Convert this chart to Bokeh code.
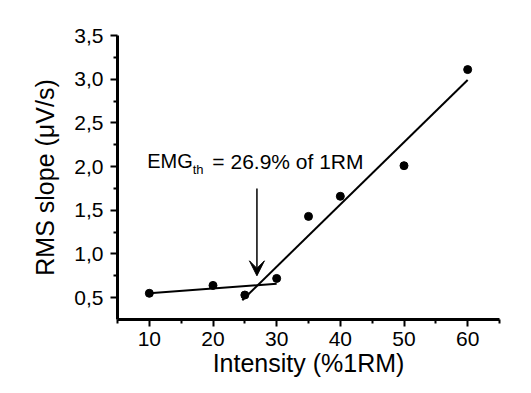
from bokeh.plotting import figure
from bokeh.models import Range1d, FixedTicker, CustomJSTickFormatter, Label, Arrow, VeeHead
from bokeh.embed import file_html
from bokeh.resources import INLINE

# data
intensity = [10, 20, 25, 30, 35, 40, 50, 60]
rms_slope = [0.55, 0.64, 0.53, 0.72, 1.43, 1.66, 2.01, 3.11]

fit1_x = [10, 30]
fit1_y = [0.55, 0.66]
fit2_x = [24.6, 60]
fit2_y = [0.47, 2.99]

threshold = 26.9
arrow_y_top = 1.75
arrow_y_tip = 0.75

x_ticks = [10, 20, 30, 40, 50, 60]
x_minor = [5, 15, 25, 35, 45, 55, 65]
y_ticks = [0.5, 1.0, 1.5, 2.0, 2.5, 3.0, 3.5]
y_minor = [0.75, 1.25, 1.75, 2.25, 2.75, 3.25]

FONT = "Liberation Sans"

p = figure(width=523, height=385, output_backend="svg", toolbar_location=None,
           x_range=Range1d(5, 65), y_range=Range1d(0.25, 3.5),
           min_border_left=117, min_border_right=24, min_border_top=35, min_border_bottom=66,
           x_axis_label="Intensity (%1RM)", y_axis_label="RMS slope (\u03bcV/s)")
p.outline_line_color = None
p.grid.visible = False
p.background_fill_color = "white"
p.border_fill_color = "white"

for ax, ticks, minor in [(p.xaxis[0], x_ticks, x_minor), (p.yaxis[0], y_ticks, y_minor)]:
    ax.ticker = FixedTicker(ticks=ticks, minor_ticks=minor)
    ax.axis_line_width = 3
    ax.axis_line_color = "black"
    ax.major_tick_line_width = 2
    ax.minor_tick_line_width = 2
    ax.major_tick_out = 7
    ax.major_tick_in = 0
    ax.minor_tick_out = 4
    ax.minor_tick_in = 0
    ax.major_label_text_font = FONT
    ax.major_label_text_font_size = "21px"
    ax.major_label_text_color = "black"
    ax.axis_label_text_font = FONT
    ax.axis_label_text_font_size = "25px"
    ax.axis_label_text_font_style = "normal"
    ax.axis_label_text_color = "black"

p.xaxis.major_label_standoff = 5
p.xaxis.axis_label_standoff = 0
p.yaxis.major_label_standoff = 7
p.yaxis.axis_label_standoff = 12
p.yaxis.formatter = CustomJSTickFormatter(code="return tick.toFixed(1).replace('.', ',');")

p.line(fit1_x, fit1_y, line_color="black", line_width=2)
p.line(fit2_x, fit2_y, line_color="black", line_width=2)
p.scatter(intensity, rms_slope, size=8, color="black")

p.add_layout(Arrow(x_start=threshold, y_start=arrow_y_top, x_end=threshold, y_end=arrow_y_tip,
                   line_width=1.5, line_color="black",
                   end=VeeHead(size=15, fill_color="black", line_color="black", line_width=1)))

p.add_layout(Label(x=9.66, y=2.06, text="EMG", text_font=FONT, text_font_size="20px",
                   text_baseline="alphabetic", text_color="black"))
p.add_layout(Label(x=16.8, y=1.965, text="th", text_font=FONT, text_font_size="13px",
                   text_baseline="alphabetic", text_color="black"))
p.add_layout(Label(x=19.9, y=2.06, text="= 26.9% of 1RM", text_font=FONT, text_font_size="21px",
                   text_baseline="alphabetic", text_color="black"))

open("out.html", "w").write(file_html(p, INLINE))
